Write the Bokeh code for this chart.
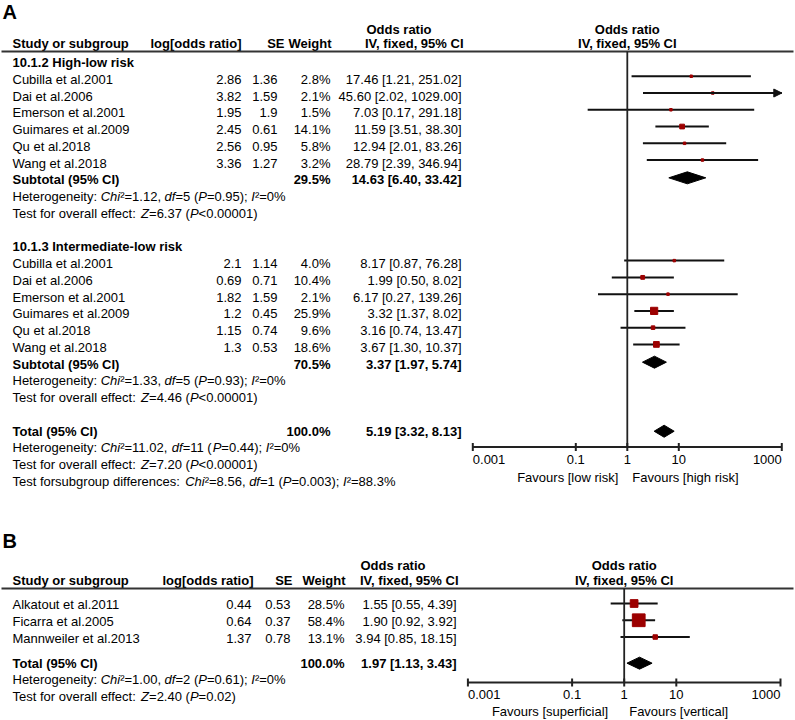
import re
from bokeh.plotting import figure
from bokeh.models import Range1d, LogScale, ColumnDataSource, Arrow, NormalHead
from bokeh.core.properties import value
from bokeh.embed import file_html
from bokeh.resources import INLINE

# ------------------------------------------------------------------ data
# Panel A, subgroup 1
A1_title = "10.1.2 High-low risk"
A1_studies = ["Cubilla et al.2001", "Dai et al.2006", "Emerson et al.2001",
              "Guimares et al.2009", "Qu et al.2018", "Wang et al.2018"]
A1_logor = [2.86, 3.82, 1.95, 2.45, 2.56, 3.36]
A1_se = [1.36, 1.59, 1.9, 0.61, 0.95, 1.27]
A1_weight = [2.8, 2.1, 1.5, 14.1, 5.8, 3.2]
A1_or = [17.46, 45.60, 7.03, 11.59, 12.94, 28.79]
A1_lo = [1.21, 2.02, 0.17, 3.51, 2.01, 2.39]
A1_hi = [251.02, 1029.00, 291.18, 38.30, 83.26, 346.94]
A1_sub = (29.5, 14.63, 6.40, 33.42)
A1_het = "Heterogeneity: Chi\u00b2=1.12, df=5 (P=0.95); I\u00b2=0%"
A1_test = "Test for overall effect: Z=6.37 (P<0.00001)"

# Panel A, subgroup 2
A2_title = "10.1.3 Intermediate-low risk"
A2_studies = ["Cubilla et al.2001", "Dai et al.2006", "Emerson et al.2001",
              "Guimares et al.2009", "Qu et al.2018", "Wang et al.2018"]
A2_logor = [2.1, 0.69, 1.82, 1.2, 1.15, 1.3]
A2_se = [1.14, 0.71, 1.59, 0.45, 0.74, 0.53]
A2_weight = [4.0, 10.4, 2.1, 25.9, 9.6, 18.6]
A2_or = [8.17, 1.99, 6.17, 3.32, 3.16, 3.67]
A2_lo = [0.87, 0.50, 0.27, 1.37, 0.74, 1.30]
A2_hi = [76.28, 8.02, 139.26, 8.02, 13.47, 10.37]
A2_sub = (70.5, 3.37, 1.97, 5.74)
A2_het = "Heterogeneity: Chi\u00b2=1.33, df=5 (P=0.93); I\u00b2=0%"
A2_test = "Test for overall effect: Z=4.46 (P<0.00001)"

A_total = (100.0, 5.19, 3.32, 8.13)
A_total_lines = ["Heterogeneity: Chi\u00b2=11.02, df=11 (P=0.44); I\u00b2=0%",
                 "Test for overall effect: Z=7.20 (P<0.00001)",
                 "Test forsubgroup differences: Chi\u00b2=8.56, df=1 (P=0.003); I\u00b2=88.3%"]
A_favours = ["Favours [low risk]", "Favours [high risk]"]

# Panel B
B_studies = ["Alkatout et al.2011", "Ficarra et al.2005", "Mannweiler et al.2013"]
B_logor = [0.44, 0.64, 1.37]
B_se = [0.53, 0.37, 0.78]
B_weight = [28.5, 58.4, 13.1]
B_or = [1.55, 1.90, 3.94]
B_lo = [0.55, 0.92, 0.85]
B_hi = [4.39, 3.92, 18.15]
B_total = (100.0, 1.97, 1.13, 3.43)
B_total_lines = ["Heterogeneity: Chi\u00b2=1.00, df=2 (P=0.61); I\u00b2=0%",
                 "Test for overall effect: Z=2.40 (P=0.02)"]
B_favours = ["Favours [superficial]", "Favours [vertical]"]

header_cols = ["Study or subgroup", "log[odds ratio]", "SE", "Weight"]
header_or = ["Odds ratio", "IV, fixed, 95% CI"]
ticks = [0.001, 0.1, 1, 10, 1000]
tick_labels = ["0.001", "0.1", "1", "10", "1000"]

# ------------------------------------------------------------------ style / layout
W, H = 795, 720
FONT = value("Liberation Sans")
FSZ = 13
FS = f"{FSZ}px"
INK = "#111111"
RED = "#9c0000"
AX_MIN, AX_MAX = ticks[0], ticks[-1]

p = figure(width=W, height=H, output_backend="svg", toolbar_location=None,
           x_range=Range1d(0, W), y_range=Range1d(H, 0),
           min_border=0, x_axis_location=None, y_axis_location=None)
p.outline_line_color = None
p.xgrid.visible = False
p.ygrid.visible = False

# log scales for the two forest panels (pixel of OR=1 and pixels per decade)
xA1, dA = 626.8, 51.5
xB1, dB = 623.7, 52.1
p.extra_x_ranges = {"A": Range1d(10 ** ((0 - xA1) / dA), 10 ** ((W - xA1) / dA)),
                    "B": Range1d(10 ** ((0 - xB1) / dB), 10 ** ((W - xB1) / dB))}
p.extra_x_scales = {"A": LogScale(), "B": LogScale()}

# Arial / Liberation Sans advance widths (1/1000 em)
AW = {" ": 278, "%": 889, "(": 333, ")": 333, ",": 278, "-": 333, ".": 278, ":": 278,
      ";": 278, "<": 584, "=": 584, "\u00b2": 333, "[": 278, "]": 278,
      "C": 722, "H": 722, "I": 278, "P": 667, "T": 611, "Z": 611,
      "a": 556, "b": 556, "c": 500, "d": 556, "e": 556, "f": 278, "g": 556, "h": 556,
      "i": 222, "l": 222, "n": 556, "o": 556, "p": 556, "r": 333, "s": 500, "t": 278,
      "u": 556, "v": 500, "y": 500}
for _d in "0123456789":
    AW[_d] = 556
ITALIC = re.compile("(Chi(?=\u00b2)|df(?==)|P(?=[=<])|I(?=\u00b2)|Z(?==))")


def txt(xs, ys, texts, align="left", bold=False, size=FS, rng="default", italic=False,
        x_offset=0):
    src = ColumnDataSource(dict(x=list(xs), y=list(ys), t=list(texts)))
    style = "bold" if bold else ("italic" if italic else "normal")
    p.text(x="x", y="y", text="t", source=src, text_align=align, text_baseline="middle",
           text_font=FONT, text_font_size=size, text_font_style=style,
           text_color="#000000", x_range_name=rng, x_offset=x_offset)


def tw(s):
    return sum(AW.get(c, 556) for c in s) * FSZ / 1000.0


def rich(x, y, line):
    """One statistics line with italic symbols (Chi, df, P, I, Z)."""
    parts = ITALIC.split(line)
    nx, ny, nt, ix, iy, it = [], [], [], [], [], []
    for k, s in enumerate(parts):
        if not s:
            continue
        core = s.strip(" ")
        lead = len(s) - len(s.lstrip(" "))
        if core:
            if k % 2 == 1:
                ix.append(x + tw(s[:lead])); iy.append(y); it.append(core)
            else:
                nx.append(x + tw(s[:lead])); ny.append(y); nt.append(core)
        x += tw(s)
    txt(nx, ny, nt)
    txt(ix, iy, it, italic=True)


def fmt_or(o, l, h):
    return f"{o:.2f} [{l:.2f}, {h:.2f}]"


def study_rows(ys, names, logor, se, w, orr, lo, hi, cols, rng, mk_off):
    c_name, c_log, c_se, c_w, c_or = cols
    txt([c_name] * len(ys), ys, names)
    txt([c_log] * len(ys), ys, [f"{v:g}" for v in logor], align="right")
    txt([c_se] * len(ys), ys, [f"{v:g}" for v in se], align="right")
    txt([c_w] * len(ys), ys, [f"{v:.1f}%" for v in w], align="right")
    txt([c_or] * len(ys), ys, [fmt_or(o, l, h) for o, l, h in zip(orr, lo, hi)], align="right")
    my = [y + mk_off for y in ys]
    x0 = [max(v, AX_MIN) for v in lo]
    x1 = [min(v, AX_MAX) for v in hi]
    p.segment(x0=x0, y0=my, x1=x1, y1=my, line_color=INK, line_width=2, x_range_name=rng)
    sizes = [max(2.5, 0.74 * v ** 0.7) for v in w]
    p.scatter(x=orr, y=my, size=sizes, marker="square", fill_color=RED, line_color=RED,
              x_range_name=rng)
    for l, h, y in zip(lo, hi, my):
        if h > AX_MAX:
            p.add_layout(Arrow(end=NormalHead(size=8, fill_color=INK, line_color=INK),
                               x_start=max(l, AX_MIN), x_end=AX_MAX, y_start=y, y_end=y,
                               line_color=INK, line_width=2, x_range_name=rng))


def summary_row(y, label, tot, cols, rng, mk_off):
    wgt, o, l, h = tot
    c_name, c_log, c_se, c_w, c_or = cols
    txt([c_name], [y], [label], bold=True)
    txt([c_w], [y], [f"{wgt:.1f}%"], align="right", bold=True)
    txt([c_or], [y], [fmt_or(o, l, h)], align="right", bold=True)
    yy = y + mk_off
    p.patches(xs=[[l, o, h, o]], ys=[[yy, yy - 6, yy, yy + 6]], fill_color="#000000",
              line_color="#000000", x_range_name=rng)


def header(y_top, y_bot, y_line, cols_hdr, or_left, or_right, rng):
    txt([12], [y_bot], [header_cols[0]], bold=True)
    txt(cols_hdr, [y_bot] * 3, header_cols[1:], align="right", bold=True)
    txt([or_left], [y_top], [header_or[0]], bold=True)
    txt([or_right], [y_bot], [header_or[1]], align="right", bold=True)
    txt([1], [y_top], [header_or[0]], align="center", bold=True, rng=rng)
    txt([1], [y_bot], [header_or[1]], align="center", bold=True, rng=rng)
    p.segment(x0=[1], x1=[W - 2], y0=[y_line], y1=[y_line], line_color="#333333", line_width=2.2)


def forest_axis(y_line, y_axis, y_lab, y_fav, fav, fav_gap, rng):
    p.segment(x0=[1], x1=[1], y0=[y_line], y1=[y_axis], line_color="#222222", line_width=1.8,
              x_range_name=rng)
    p.segment(x0=[ticks[0]], x1=[ticks[-1]], y0=[y_axis], y1=[y_axis], line_color="#222222",
              line_width=2, x_range_name=rng)
    p.segment(x0=ticks, x1=ticks, y0=[y_axis - 4] * len(ticks), y1=[y_axis + 4] * len(ticks),
              line_color="#222222", line_width=2, x_range_name=rng)
    txt(ticks[:1], [y_lab], tick_labels[:1], align="left", rng=rng)
    txt(ticks[1:-1], [y_lab] * (len(ticks) - 2), tick_labels[1:-1], align="center", rng=rng)
    txt(ticks[-1:], [y_lab], tick_labels[-1:], align="right", rng=rng)
    txt([1], [y_fav], [fav[0]], align="right", rng=rng, x_offset=-fav_gap[0])
    txt([1], [y_fav], [fav[1]], align="left", rng=rng, x_offset=fav_gap[1])


# ------------------------------------------------------------------ panel A
txt([2], [11], ["A"], bold=True, size="20px")
colsA = (12, 241, 277, 330, 461)
header(29, 43, 51, (241, 284, 331), 366, 463, "A")

pitch = 16.76
y0A = 62
rowA = [y0A + i * pitch for i in range(26)]
txt([12], [rowA[0]], [A1_title], bold=True)
study_rows(rowA[1:7], A1_studies, A1_logor, A1_se, A1_weight, A1_or, A1_lo, A1_hi, colsA, "A", -3)
summary_row(rowA[7], "Subtotal (95% CI)", A1_sub, colsA, "A", -2)
rich(12, rowA[8], A1_het)
rich(12, rowA[9], A1_test)

txt([12], [rowA[11]], [A2_title], bold=True)
study_rows(rowA[12:18], A2_studies, A2_logor, A2_se, A2_weight, A2_or, A2_lo, A2_hi, colsA, "A", -3)
summary_row(rowA[18], "Subtotal (95% CI)", A2_sub, colsA, "A", -2)
rich(12, rowA[19], A2_het)
rich(12, rowA[20], A2_test)

summary_row(rowA[22], "Total (95% CI)", A_total, colsA, "A", 0)
for k, line in enumerate(A_total_lines):
    rich(12, rowA[23 + k], line)

forest_axis(51, 446.5, 459, 477, A_favours, (9, 5), "A")

# ------------------------------------------------------------------ panel B
txt([2], [540], ["B"], bold=True, size="20px")
colsB = (12, 251, 290, 344, 456)
header(565, 580, 588, (253, 292, 345), 360, 458, "B")
y0B = 604
rowB = [y0B + i * pitch for i in range(3)]
study_rows(rowB, B_studies, B_logor, B_se, B_weight, B_or, B_lo, B_hi, colsB, "B", -1)
yTotB = rowB[-1] + 1.5 * pitch
summary_row(yTotB, "Total (95% CI)", B_total, colsB, "B", 0)
for k, line in enumerate(B_total_lines):
    rich(12, yTotB + (k + 1) * pitch, line)

forest_axis(588, 682, 694, 711, B_favours, (16, 5), "B")

open("out.html", "w").write(file_html(p, INLINE))
